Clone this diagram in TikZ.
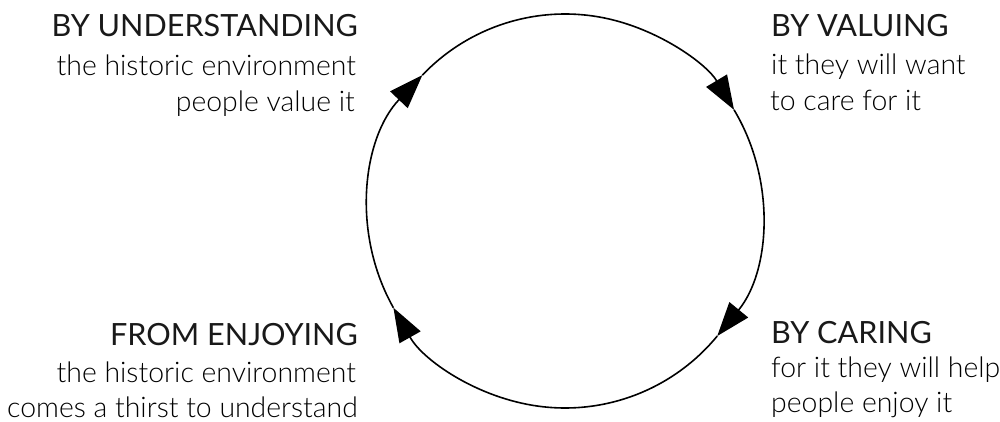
\documentclass[tikz,border=0pt]{standalone}
\usepackage{fontspec}
\setmainfont{Lato}
\IfFontExistsTF{Lato Light}{\newfontfamily\bodyfont{Lato Light}}{%
  \IfFontExistsTF{Lato-Light}{\newfontfamily\bodyfont{Lato-Light}}{\newfontfamily\bodyfont{Lato}}}
\usetikzlibrary{arrows.meta}
\begin{document}
\begin{tikzpicture}[x=1pt,y=1pt,
  head/.style={font=\fontsize{30.6}{34}\selectfont, inner sep=0pt, text=black!90},
  body/.style={font=\bodyfont\fontsize{28.4}{32}\selectfont, inner sep=0pt, text=black},
  cyc/.style={line width=1.6pt, draw=black},
  tipped/.style={-{Triangle[length=34pt,width=24pt]}}]
\useasboundingbox (0,0) rectangle (1000,421);
\coordinate (C) at (565,210);
% texts: by understanding
\node[head, anchor=base east] (ua) at (358,384) {BY UNDERSTANDING};
\node[body, anchor=base east] (ub) at (356,345) {the historic environment};
\node[body, anchor=base east] (uc) at (355,309) {people value it};
% by valuing
\node[head, anchor=base west] (va) at (771,384) {BY VALUING};
\node[body, anchor=base west] (vb) at (771,346) {it they will want};
\node[body, anchor=base west] (vc) at (770,310) {to care for it};
% by caring
\node[head, anchor=base west] (ca) at (771,78) {BY CARING};
\node[body, anchor=base west] (cb) at (771,44) {for it they will help};
\node[body, anchor=base west] (cc) at (771,9) {people enjoy it};
% from enjoying
\node[head, anchor=base east] (ea) at (358,76) {FROM ENJOYING};
\node[body, anchor=base east] (eb) at (356,39) {the historic environment};
\node[body, anchor=base east] (ec) at (358,4) {comes a thirst to understand};
% cycle
\draw[cyc,tipped] ([shift={(209.4:197)}]C) arc[start angle=209.4, end angle=136.4, radius=197];
\draw[cyc,tipped] ([shift={(136.4:197)}]C) arc[start angle=136.4, end angle=30.9, radius=197];
\draw[cyc,tipped] ([shift={(30.9:197)}]C) arc[start angle=30.9, end angle=-39.4, radius=197];
\draw[cyc,tipped] ([shift={(-39.4:197)}]C) arc[start angle=-39.4, end angle=-150.6, radius=197];
\end{tikzpicture}
\end{document}
